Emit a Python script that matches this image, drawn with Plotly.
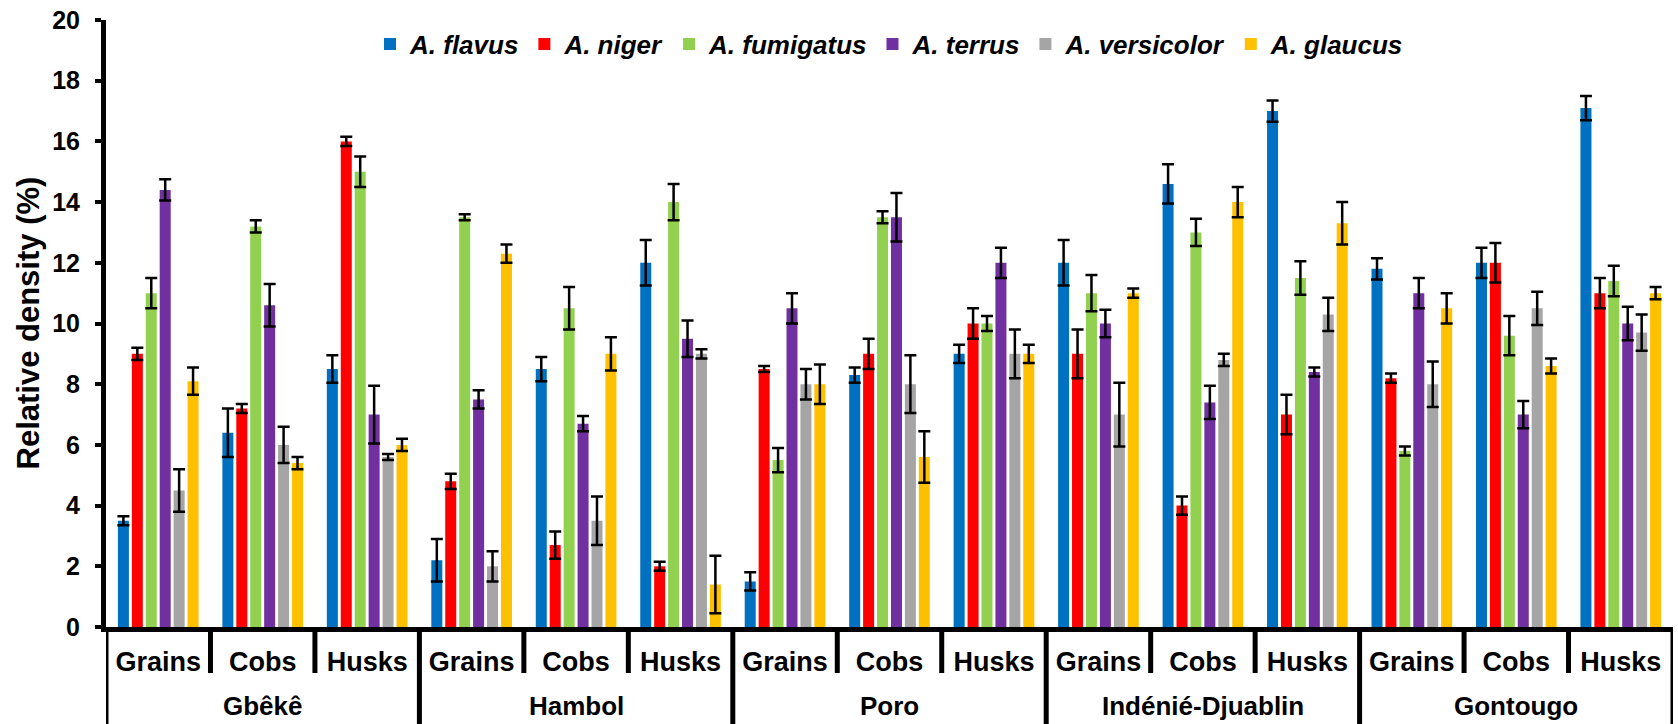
import plotly.graph_objects as go

regions = ["Gbêkê", "Hambol", "Poro", "Indénié-Djuablin", "Gontougo"]
parts = ["Grains", "Cobs", "Husks"]
species = ["A. flavus", "A. niger", "A. fumigatus", "A. terrus", "A. versicolor", "A. glaucus"]
colors = ["#0070C0", "#FF0000", "#92D050", "#7030A0", "#A5A5A5", "#FFC000"]

# values per species, ordered region-major then part (Grains, Cobs, Husks)
flavus = [3.5, 6.4, 8.5, 2.2, 8.5, 12.0, 1.5, 8.3, 9.0, 12.0, 14.6, 17.0, 11.8, 12.0, 17.1]
niger = [9.0, 7.2, 16.0, 4.8, 2.7, 2.0, 8.5, 9.0, 10.0, 9.0, 4.0, 7.0, 8.2, 12.0, 11.0]
fumigatus = [11.0, 13.2, 15.0, 13.5, 10.5, 14.0, 5.5, 13.5, 10.0, 11.0, 13.0, 11.5, 5.8, 9.6, 11.4]
terrus = [14.4, 10.6, 7.0, 7.5, 6.7, 9.5, 10.5, 13.5, 12.0, 10.0, 7.4, 8.4, 11.0, 7.0, 10.0]
versicolor = [4.5, 6.0, 5.6, 2.0, 3.5, 9.0, 8.0, 8.0, 9.0, 7.0, 8.8, 10.3, 8.0, 10.5, 9.7]
glaucus = [8.1, 5.4, 6.0, 12.3, 9.0, 1.4, 8.0, 5.6, 9.0, 11.0, 14.0, 13.3, 10.5, 8.6, 11.0]

flavus_err = [0.15, 0.8, 0.45, 0.7, 0.4, 0.75, 0.3, 0.25, 0.3, 0.75, 0.65, 0.35, 0.35, 0.5, 0.4]
niger_err = [0.2, 0.15, 0.15, 0.25, 0.45, 0.15, 0.1, 0.5, 0.5, 0.8, 0.3, 0.65, 0.15, 0.65, 0.5]
fumigatus_err = [0.5, 0.2, 0.5, 0.1, 0.7, 0.6, 0.4, 0.2, 0.25, 0.6, 0.45, 0.55, 0.15, 0.65, 0.5]
terrus_err = [0.35, 0.7, 0.95, 0.3, 0.25, 0.6, 0.5, 0.8, 0.5, 0.45, 0.55, 0.15, 0.5, 0.45, 0.55]
versicolor_err = [0.7, 0.6, 0.1, 0.5, 0.8, 0.15, 0.5, 0.95, 0.8, 1.05, 0.2, 0.55, 0.75, 0.55, 0.6]
glaucus_err = [0.45, 0.2, 0.2, 0.3, 0.55, 0.95, 0.65, 0.85, 0.3, 0.15, 0.5, 0.7, 0.5, 0.25, 0.2]

values = [flavus, niger, fumigatus, terrus, versicolor, glaucus]
errors = [flavus_err, niger_err, fumigatus_err, terrus_err, versicolor_err, glaucus_err]

FONT = "Arial, Liberation Sans, sans-serif"
W, H = 1678, 724
ML, MR, MT, MB = 106, 5, 20, 97

n_cat = len(regions) * len(parts)
xpos = list(range(n_cat))
ticktext = [p for r in regions for p in parts]

fig = go.Figure()
for name, col, vals, errs in zip(species, colors, values, errors):
    fig.add_trace(go.Bar(
        x=xpos, y=vals, name=name, marker=dict(color=col, line=dict(width=0)),
        error_y=dict(type="data", array=errs, visible=True, color="black",
                     thickness=2.5, width=6),
    ))

plot_h = H - MT - MB
axis_y = H - MB
inner_depth = -(673 - axis_y) / plot_h
outer_depth = -(H - axis_y) / plot_h

shapes = []
for i in range(n_cat + 1):
    outer = (i % len(parts) == 0)
    shapes.append(dict(type="line", xref="x", yref="paper",
                       x0=i - 0.5, x1=i - 0.5, y0=0,
                       y1=outer_depth if outer else inner_depth,
                       line=dict(color="black", width=5), layer="above"))

annotations = []
for gi, r in enumerate(regions):
    annotations.append(dict(x=gi * len(parts) + (len(parts) - 1) / 2, xref="x",
                            y=-(706 - axis_y) / plot_h, yref="paper",
                            text=r, showarrow=False, xanchor="center", yanchor="middle",
                            font=dict(family=FONT, size=26, color="black", weight="bold")))
plot_w = W - ML - MR
annotations.append(dict(x=(28 - ML) / plot_w, xref="paper", y=0.5, yref="paper",
                        text="Relative density (%)", textangle=-90, showarrow=False,
                        xanchor="center", yanchor="middle",
                        font=dict(family=FONT, size=31, color="black", weight="bold")))

fig.update_layout(
    width=W, height=H,
    margin=dict(l=ML, r=MR, t=MT, b=MB, pad=0),
    plot_bgcolor="white", paper_bgcolor="white",
    barmode="group", bargap=0.2, bargroupgap=0.21,
    showlegend=True,
    legend=dict(orientation="h", x=0.5, xanchor="center", y=1 - (44 - MT) / plot_h,
                yanchor="middle", bgcolor="rgba(0,0,0,0)",
                font=dict(family=FONT, size=26, color="black", weight="bold", style="italic")),
    xaxis=dict(range=[-0.5, n_cat - 0.5], tickvals=xpos, ticktext=ticktext,
               showline=True, linecolor="black", linewidth=5, ticks="",
               showgrid=False, zeroline=False, ticklabelstandoff=7,
               tickfont=dict(family=FONT, size=27, color="black", weight="bold")),
    yaxis=dict(range=[0, 20], dtick=2, showline=True, linecolor="black", linewidth=5,
               ticks="outside", ticklen=6, tickwidth=4, tickcolor="black",
               showgrid=False, zeroline=False, ticklabelstandoff=10,
               tickfont=dict(family=FONT, size=25, color="black", weight="bold")),
    shapes=shapes, annotations=annotations,
)

fig.write_html("out.html", config={"displayModeBar": False},
               post_script="document.body.style.margin='0';document.body.style.overflow='hidden';")
